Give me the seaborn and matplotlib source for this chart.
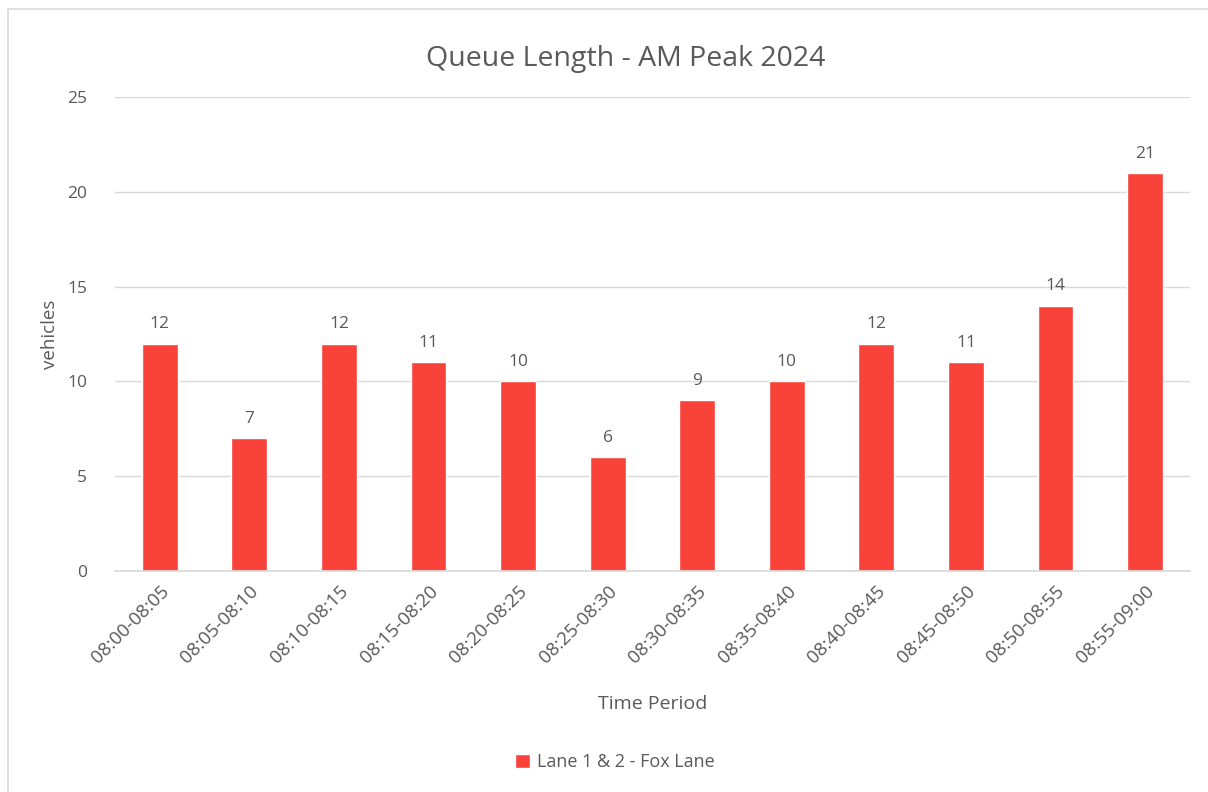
"""Queue length bar chart, AM peak 2024."""

import matplotlib

matplotlib.use("Agg")
import matplotlib.pyplot as plt
from matplotlib.patches import Rectangle
import pandas as pd
import seaborn as sns

periods = [
    "08:00-08:05", "08:05-08:10", "08:10-08:15", "08:15-08:20",
    "08:20-08:25", "08:25-08:30", "08:30-08:35", "08:35-08:40",
    "08:40-08:45", "08:45-08:50", "08:50-08:55", "08:55-09:00",
]
queue_length = [12, 7, 12, 11, 10, 6, 9, 10, 12, 11, 14, 21]
series_name = "Lane 1 & 2 - Fox Lane"

BAR = "#F9423A"
TEXT = "#595959"
GRID = "#D9D9D9"

df = pd.DataFrame({"period": periods, "vehicles": queue_length, "series": series_name})

sns.set_theme(style="white")
plt.rcParams["font.family"] = ["Open Sans", "DejaVu Sans"]

fig = plt.figure(figsize=(12.08, 7.92), dpi=100)
ax = fig.add_axes([0.0952, 0.279, 0.8898, 0.5985])

sns.barplot(
    data=df, x="period", y="vehicles", hue="series",
    palette=[BAR], width=0.4, ax=ax, saturation=1,
)

for container in ax.containers:
    ax.bar_label(container, padding=8, fontsize=12.5, color=TEXT)

ax.set_ylim(0, 25)
ax.set_yticks(range(0, 26, 5))
ax.yaxis.grid(True, color=GRID, linewidth=1)
ax.set_axisbelow(True)
for side in ["left", "right", "top"]:
    ax.spines[side].set_visible(False)
ax.spines["bottom"].set_color(GRID)
ax.tick_params(axis="y", length=0, pad=20, labelsize=12.5, labelcolor=TEXT)
ax.tick_params(axis="x", length=0, pad=8, labelsize=13.5, labelcolor=TEXT)
plt.setp(ax.get_xticklabels(), rotation=45, ha="right", rotation_mode="anchor")

ax.set_xlabel("Time Period", fontsize=14, color=TEXT, labelpad=20)
ax.set_ylabel("vehicles", fontsize=13.5, color=TEXT, labelpad=6)
ax.set_title("")
fig.text(0.518, 0.925, "Queue Length - AM Peak 2024", fontsize=20.5,
         color=TEXT, ha="center", va="center")

ax.legend_.remove()
fig.legend(
    handles=ax.patches[:1], labels=[series_name], loc="center",
    bbox_to_anchor=(0.509, 0.038), frameon=False, fontsize=13,
    labelcolor=TEXT, handlelength=0.8, handleheight=0.8, handletextpad=0.4,
)

fig.patches.append(Rectangle(
    (8 / 1208, -0.1), 1.2, 1.0886, transform=fig.transFigure,
    fill=False, edgecolor=GRID, linewidth=1.2,
))

fig.savefig("out.png", dpi=100)
